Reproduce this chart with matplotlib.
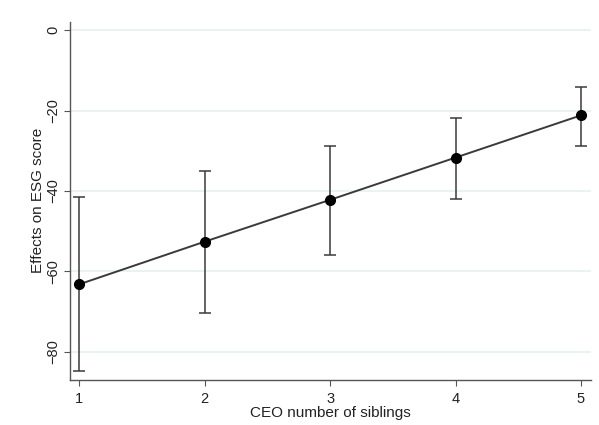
import matplotlib
matplotlib.use("Agg")
import matplotlib.pyplot as plt

plt.rcParams['font.family'] = ['Liberation Sans', 'DejaVu Sans']

siblings = [1, 2, 3, 4, 5]
effect = [-63.2, -52.6, -42.2, -31.7, -21.2]
ci_low = [-84.8, -70.4, -56.0, -41.9, -28.7]
ci_high = [-41.6, -35.1, -28.7, -21.9, -14.1]

fig = plt.figure(figsize=(5.99, 4.25), dpi=100)
ax = fig.add_axes([0.117, 0.106, 0.869, 0.843])

err_lo = [e - l for e, l in zip(effect, ci_low)]
err_hi = [h - e for e, h in zip(effect, ci_high)]
ax.errorbar(siblings, effect, yerr=[err_lo, err_hi], fmt='none',
            ecolor='#3a3a3a', elinewidth=1.1, capsize=4, capthick=1.1, zorder=2)
ax.plot(siblings, effect, color='#3a3a3a', lw=1.4, zorder=3)
ax.plot(siblings, effect, 'o', color='black', ms=7, zorder=4)

ax.set_xlim(0.926, 5.077)
ax.set_ylim(-87.0, 2.1)
ax.set_xticks(siblings)
ax.set_yticks([0, -20, -40, -60, -80])
ax.yaxis.grid(True, color='#e6f0f0', lw=1.2)
ax.set_axisbelow(True)

for s in ['top', 'right']:
    ax.spines[s].set_visible(False)
for s in ['left', 'bottom']:
    ax.spines[s].set_color('#555555')
    ax.spines[s].set_linewidth(1.0)
ax.tick_params(axis='x', colors='#555555', labelcolor='#222222', labelsize=10.5, length=4, pad=5)
ax.tick_params(axis='y', colors='#555555', labelcolor='#222222', labelsize=10.5, length=4, pad=3)
for lab in ax.get_yticklabels():
    lab.set_rotation(90)
    lab.set_va('center')

ax.set_xlabel('CEO number of siblings', fontsize=11, color='#222222', labelpad=0)
ax.set_ylabel('Effects on ESG score', fontsize=11, color='#222222', labelpad=1)

fig.savefig('out.png', dpi=100)
